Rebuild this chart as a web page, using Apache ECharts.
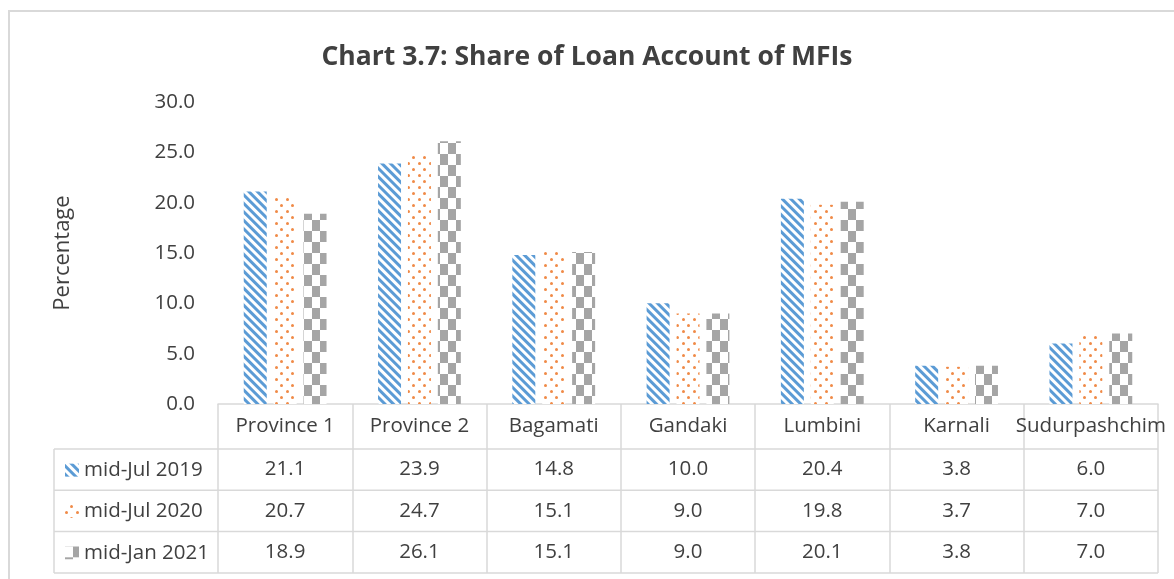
<!DOCTYPE html>
<html>
<head>
<meta charset="utf-8">
<script src="https://cdn.jsdelivr.net/npm/echarts@6/dist/echarts.min.js"></script>
<style>
  html, body { margin: 0; padding: 0; background: #fff; }
  #main { width: 1174px; height: 579px; }
</style>
</head>
<body>
<div id="main"></div>
<script>
  // data
  const provinces = ['Province 1', 'Province 2', 'Bagamati', 'Gandaki', 'Lumbini', 'Karnali', 'Sudurpashchim']
  const seriesNames = ['mid-Jul 2019', 'mid-Jul 2020', 'mid-Jan 2021']
  const jul2019 = [21.1, 23.9, 14.8, 10.0, 20.4, 3.8, 6.0]
  const jul2020 = [20.7, 24.7, 15.1, 9.0, 19.8, 3.7, 7.0]
  const jan2021 = [18.9, 26.1, 15.1, 9.0, 20.1, 3.8, 7.0]
  const yTicks = [0, 5, 10, 15, 20, 25, 30]

  const allValues = [jul2019, jul2020, jan2021]

  // layout
  const gridLeft = 218, gridRight = 16, gridTop = 102, gridBottom = 175
  const axisY = 579 - gridBottom
  const headH = 45, rowH = 41.3
  const tableLeft = 54, tableRight = 1174 - gridRight
  const lineColor = '#D9D9D9'
  const textColor = '#404040'
  const font = 'Open Sans'
  const fs = 20.5

  const patterns = [
    { // blue diagonal stripes
      color: '#5B9BD5',
      symbol: 'rect',
      symbolSize: 1,
      dashArrayX: [1, 0],
      dashArrayY: [3, 3],
      rotation: Math.PI / 4
    },
    { // orange dots
      color: '#F08A47',
      symbol: 'circle',
      symbolSize: 1,
      dashArrayX: [[3, 8], [0, 5, 3, 3]],
      dashArrayY: [3, 3],
      rotation: 0
    },
    { // grey checks
      color: '#A5A5A5',
      symbol: 'rect',
      symbolSize: 1,
      dashArrayX: [[8, 8], [0, 8, 8, 0]],
      dashArrayY: [10.5, 0],
      rotation: 0
    }
  ]

  const myChart = echarts.init(document.getElementById('main'))

  let series = []
  let legends = []
  for (let i = 0; i < seriesNames.length; i++) {
    series.push({
      name: seriesNames[i],
      type: 'bar',
      barWidth: 23,
      barGap: '30%',
      itemStyle: {
        color: '#ffffff',
        decal: patterns[i]
      },
      data: allValues[i]
    })
    // one legend per table row so it lines up with the row
    legends.push({
      left: 60,
      top: axisY + headH + rowH * i + rowH / 2 - 15,
      itemWidth: 14,
      itemHeight: 13,
      icon: 'rect',
      selectedMode: false,
      textStyle: { fontFamily: font, fontSize: fs, color: textColor, lineHeight: 20 },
      data: [seriesNames[i]]
    })
  }

  // table lines
  let graphics = [
    {
      type: 'rect',
      shape: { x: 9, y: 11, width: 1200, height: 600 },
      style: { fill: 'none', stroke: lineColor, lineWidth: 2 },
      silent: true
    },
    {
      type: 'line',
      shape: { x1: tableLeft, y1: axisY + headH, x2: tableLeft, y2: axisY + headH + rowH * 3 },
      style: { stroke: lineColor, lineWidth: 1.5 },
      silent: true
    }
  ]
  for (let r = 0; r <= 3; r++) {
    let y = axisY + headH + rowH * r
    graphics.push({
      type: 'line',
      shape: { x1: tableLeft, y1: y, x2: tableRight, y2: y },
      style: { stroke: lineColor, lineWidth: 1.5 },
      silent: true
    })
  }

  let option = {
    animation: false,
    title: {
      text: 'Chart 3.7: Share of Loan Account of MFIs',
      left: 'center',
      top: 39,
      textStyle: { fontFamily: font, fontSize: 26.5, fontWeight: 'bold', color: textColor }
    },
    legend: legends,
    grid: {
      left: gridLeft,
      right: gridRight,
      top: gridTop,
      bottom: gridBottom
    },
    xAxis: {
      type: 'category',
      data: provinces,
      axisLine: { lineStyle: { color: lineColor, width: 1.5 } },
      axisTick: {
        show: true,
        length: headH + rowH * 3,
        lineStyle: { color: lineColor, width: 1.5 }
      },
      axisLabel: {
        interval: 0,
        margin: 0,
        formatter(value, index) {
          let text = '{h|' + value + '}'
          for (let i in allValues) {
            text += '\n{v|' + allValues[i][index].toFixed(1) + '}'
          }
          return text
        },
        rich: {
          h: { fontFamily: font, fontSize: fs, color: textColor, lineHeight: headH, height: headH },
          v: { fontFamily: font, fontSize: fs, color: textColor, lineHeight: rowH, height: rowH }
        }
      }
    },
    yAxis: {
      type: 'value',
      min: yTicks[0],
      max: yTicks[yTicks.length - 1],
      interval: 5,
      name: 'Percentage',
      nameLocation: 'middle',
      nameGap: 144,
      nameTextStyle: { fontFamily: font, fontSize: 22, color: textColor },
      axisLine: { show: false },
      axisTick: { show: false },
      splitLine: { show: false },
      axisLabel: {
        margin: 23,
        fontFamily: font,
        fontSize: fs,
        color: textColor,
        formatter: (v) => v.toFixed(1)
      }
    },
    graphic: graphics,
    series: series
  }

  myChart.setOption(option)
</script>
</body>
</html>
